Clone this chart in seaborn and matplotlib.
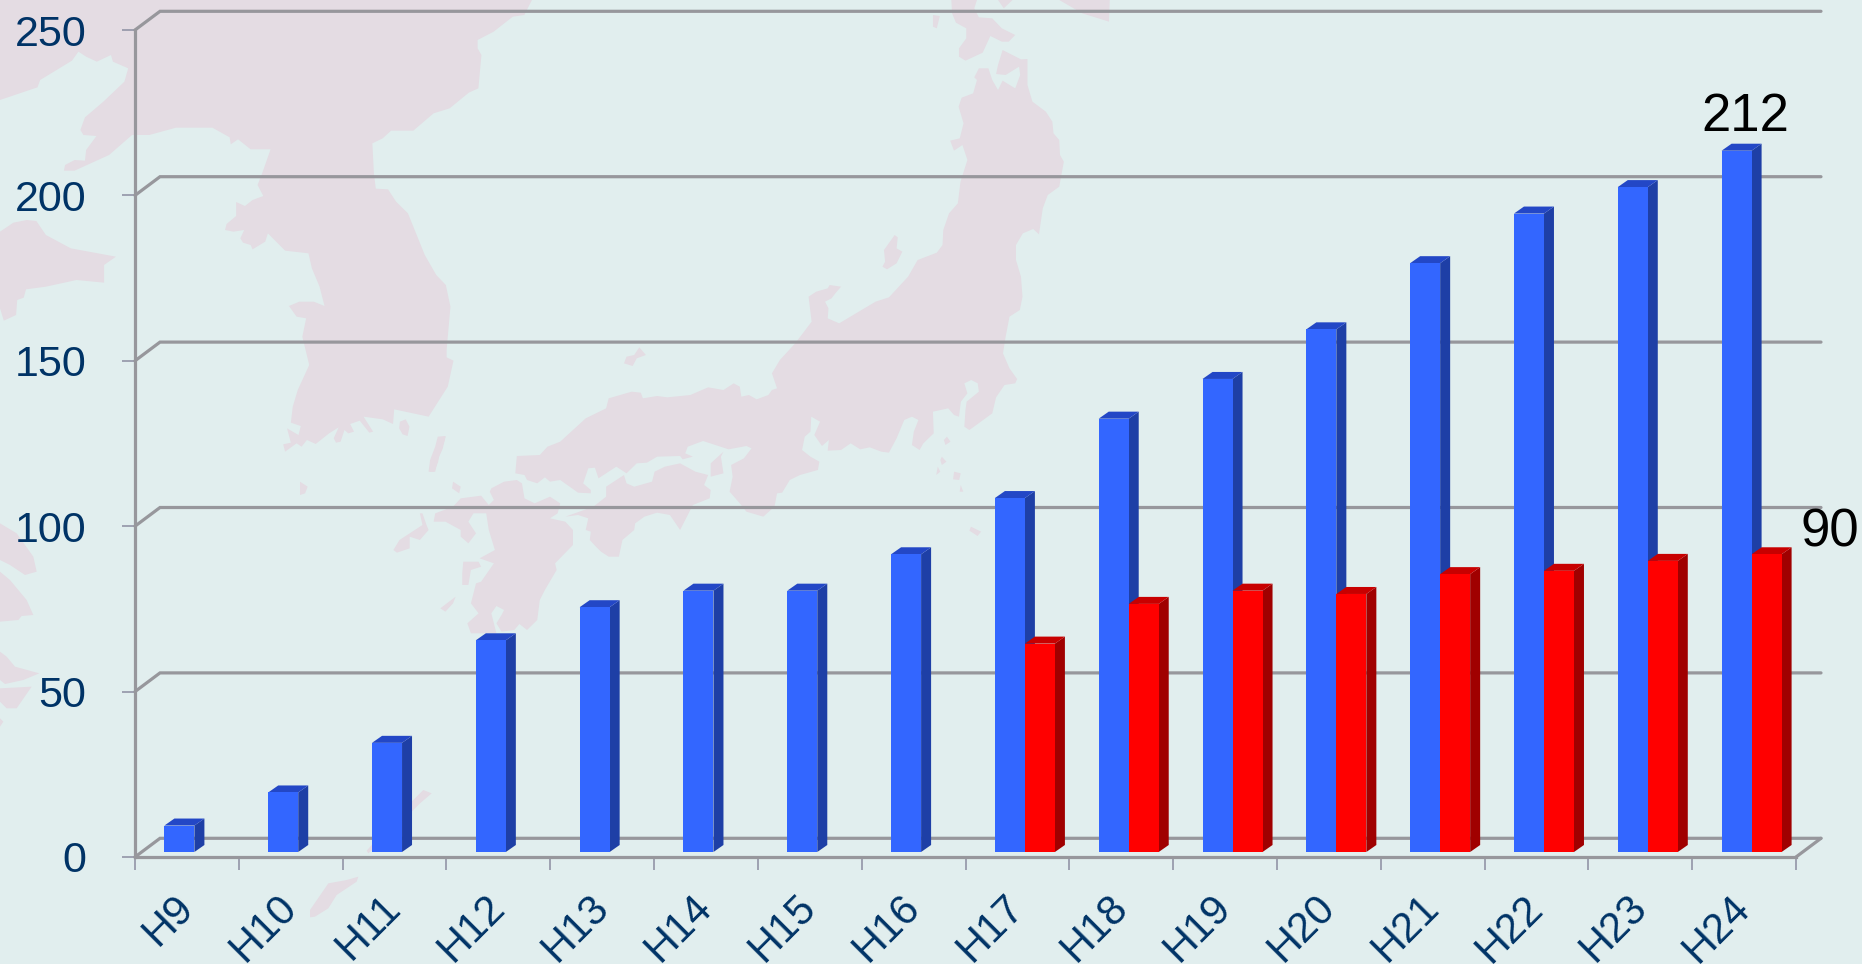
import matplotlib
matplotlib.use("Agg")
import matplotlib.pyplot as plt
from matplotlib.patches import Polygon
from matplotlib.transforms import ScaledTranslation
import pandas as pd
import seaborn as sns

# ---- data ----
years = ["H9", "H10", "H11", "H12", "H13", "H14", "H15", "H16",
         "H17", "H18", "H19", "H20", "H21", "H22", "H23", "H24"]
blue_values = [8, 18, 33, 64, 74, 79, 79, 90, 107, 131, 143, 158, 178, 193, 201, 212]
red_values = [None] * 8 + [63, 75, 79, 78, 84, 85, 88, 90]
y_ticks = [0, 50, 100, 150, 200, 250]

# ---- style ----
W, H = 1862, 964
BG = "#e1eeee"
MAP = "#e4dce3"
GRID = "#97979c"
TICK = "#9295a6"
NAVY = "#003366"
FONT = "Liberation Sans"
BLUE = ("#3366ff", "#1e3fa6", "#2347c6")   # front, side, top
RED = ("#ff0000", "#a00000", "#c80000")

sns.set_theme(style="white")
plt.rcParams["font.family"] = [FONT, "DejaVu Sans"]

fig = plt.figure(figsize=(W / 100, H / 100), dpi=100, facecolor=BG)

# ---- background map (decorative outlines, traced in zoomed picture coordinates) ----
bg = fig.add_axes([0, 0, 1, 1], zorder=0)
bg.set_xlim(0, W); bg.set_ylim(H, 0); bg.axis("off")


def land(pts, x0=0, y0=0, sx=3.0, sy=3.0):
    bg.add_patch(Polygon([(x0 + x / sx, y0 + y / sy) for x, y in pts], closed=True,
                         facecolor=MAP, edgecolor="none"))


Z4 = dict(x0=0, y0=0, sx=2.613, sy=3)
Z5 = dict(x0=600, y0=0, sx=2.613, sy=3)
Z6 = dict(x0=300, y0=340, sx=1.96, sy=3)
Z8 = dict(x0=0, y0=480, sx=3, sy=3)
Z1 = dict(x0=0, y0=780, sx=3, sy=3)

land([(1390,0),(1370,45),(1340,50),(1290,95),(1248,120),(1248,145),(1258,165),(1250,265),(1225,278),(1175,325),
      (1133,340),(1080,392),(1022,392),(1000,415),(973,430),(977,520),(982,566),(1014,568),(1035,605),(1066,640),
      (1110,765),(1140,825),(1165,855),(1177,920),(1167,1050),(1167,1072),(1185,1082),(1170,1160),(1120,1250),
      (1030,1228),(1027,1272),(1000,1258),(950,1250),(975,1295),(965,1298),(940,1262),(915,1272),(925,1295),
      (910,1300),(900,1290),(890,1325),(878,1328),(872,1315),(885,1282),(860,1300),(825,1332),(802,1320),(788,1340),
      (775,1330),(745,1355),(740,1333),(760,1328),(750,1285),(780,1305),(786,1278),(760,1268),(765,1220),(778,1170),
      (808,1095),(790,1010),(800,955),(775,950),(755,918),(782,905),(820,905),(848,918),(835,860),(815,805),(806,760),
      (745,752),(700,700),(693,725),(660,748),(655,735),(635,728),(628,715),(638,690),(610,695),(588,690),(592,672),
      (617,648),(617,606),(640,618),(660,600),(688,588),(673,555),(685,520),(707,448),(655,448),(622,418),(603,433),
      (600,412),(555,383),(460,383),(390,405),(345,405),(285,465),(195,512),(167,512),(170,495),(195,480),(222,482),
      (225,450),(252,408),(218,405),(210,390),(222,352),(270,305),(325,245),(335,205),(295,185),(290,165),(253,185),
      (225,170),(205,155),(188,182),(105,240),(98,262),(0,300),(0,0)], **Z4)
land([(0,695),(35,668),(70,660),(95,663),(120,705),(185,745),(303,770),(272,795),(272,848),(200,840),(120,860),
      (68,868),(62,893),(45,900),(42,945),(10,962),(0,925)], **Z4)
land([(1045,1265),(1060,1258),(1070,1280),(1065,1308),(1052,1303),(1043,1285)], **Z4)
land([(1165,1308),(1160,1330),(1150,1350),(1145,1385),(1135,1415),(1122,1415),(1125,1385),(1135,1365),(1142,1330)], **Z4)

# left-edge coast
land([(0,130),(50,160),(100,230),(110,275),(75,285),(30,255),(0,240)], **Z8)
land([(0,275),(30,300),(80,360),(100,405),(65,408),(55,420),(0,425)], **Z8)
land([(0,515),(20,530),(45,560),(118,580),(70,600),(15,612),(0,600)], **Z8)
land([(0,625),(95,620),(50,685),(20,685),(0,665)], **Z8)
land([(0,715),(10,725),(0,740)], **Z8)

# Honshu: northern and eastern coast, then the Kii section, then the west coast
honshu_north = [(990,205),(1015,205),(1025,240),(1040,270),(1052,242),(1085,265),(1098,225),(1095,200),(1060,225),
                (1035,222),(1040,195),(1052,150),(1100,178),(1117,177),(1117,255),(1130,305),(1165,335),(1182,365),
                (1185,400),(1200,420),(1202,465),(1212,485),(1200,560),(1170,585),(1157,625),(1147,703),(1132,687),
                (1105,700),(1087,735),(1087,780),(1100,830),(1104,890),(1097,930),(1070,950),(1060,1010),(1053,1060),
                (1070,1105),(1090,1137),(1085,1150),(1057,1155),(1035,1192),(1025,1240),(975,1282),(965,1290),(952,1280),
                (955,1230),(958,1205),(990,1175),(987,1150),(970,1140),(952,1150),(960,1180),(943,1205),(938,1250),
                (925,1245),(910,1225),(870,1235),(872,1300),(845,1330),(835,1350),(815,1335),(820,1295),(832,1260),
                (815,1250),(795,1260),(775,1315),(755,1358),(735,1355),(705,1342),(680,1348),(655,1330),(630,1350),
                (595,1352),(598,1320),(580,1338),(560,1305),(575,1265),(552,1250),(550,1295),(535,1310),(528,1350),
                (550,1370)]
honshu_south = [(1018,365),(1015,390),(980,405),(960,420),(945,458),(935,460),(930,500),(908,530),(875,515),(862,490),
                (842,455),(848,410),(845,375),(870,355),(885,325),(875,318),(840,328),(790,303),(760,320),(755,340),
                (770,350),(750,358),(745,348),(700,350),(680,368),(660,370),(640,400),(620,380),(585,415),(578,383),
                (565,385),(555,430),(570,450),(570,460),(545,458),(510,420),(490,425),(480,412),(465,430),(445,420),
                (440,405),(422,400),(425,348),(470,345),(485,320),(510,305),(560,235),(600,205),(605,175),(650,155),
                (668,158),(672,175),(700,168),(720,172),(765,165),(800,142),(830,150),(850,130),(862,140),(865,170),
                (880,165),(895,178),(918,165),(925,150),(935,145),(925,100)]
honshu_west = [(470,1080),(510,1030),(553,965),(545,890),(565,875),(595,865),(600,855),(630,860),(615,880),(605,895),
               (588,905),(597,925),(595,955),(625,970),(720,905),(755,892),(805,830),(830,780),(880,758),(895,735),
               (897,690),(912,640),(935,610),(942,545),(960,480),(947,435),(925,452),(915,422),(940,415),(950,370),
               (937,320),(945,293),(975,280),(985,240),(978,232)]
ring = ([(600 + x / 2.613, y / 3) for x, y in honshu_north]
        + [(300 + x / 1.96, 340 + y / 3) for x, y in honshu_south]
        + [(600 + x / 2.613, y / 3) for x, y in honshu_west])
land(ring, sx=1, sy=1)

# Hokkaido and northern islands
land([(918,0),(920,40),(930,68),(957,85),(957,115),(938,145),(938,170),(955,182),(1000,158),(1020,108),(1050,125),
      (1068,125),(1085,105),(1050,85),(1025,55),(990,52),(978,25),(985,0)], **Z5)
land([(1040,0),(1055,25),(1078,0)], **Z5)
land([(1200,0),(1260,40),(1330,65),(1332,0)], **Z5)
land([(870,45),(888,48),(880,85),(870,80)], **Z5)
land([(770,705),(778,712),(775,745),(790,755),(775,790),(750,808),(738,800),(745,785),(742,750)], **Z5)

# Shikoku, Kyushu and small islands
land([(575,500),(600,470),(600,440),(635,405),(640,430),(655,440),(690,425),(695,395),(715,380),(745,370),(775,395),
      (800,405),(792,435),(805,450),(803,475),(770,495),(755,540),(745,570),(725,525),(700,518),(675,530),(657,550),
      (655,570),(632,600),(625,650),(605,650),(590,635),(580,620),(568,600),(570,575),(560,570),(565,535),(545,525),
      (520,530)], **Z6)
land([(375,445),(400,425),(425,420),(435,430),(440,475),(460,490),(490,470),(510,490),(505,520),(490,535),(520,545),
      (535,570),(535,615),(500,670),(503,690),(480,750),(470,780),(465,840),(445,870),(430,852),(420,870),(395,875),
      (385,850),(395,825),(400,810),(385,798),(375,820),(385,880),(335,880),(328,850),(350,820),(335,790),(345,730),
      (355,725),(380,670),(352,655),(382,630),(370,570),(365,520),(340,520),(330,545),(345,580),(330,610),(315,590),
      (315,570),(285,545),(262,545),(265,520),(300,500),(315,475),(355,467),(370,495),(380,480),(372,455)], **Z6)
for isle in ([(830,335),(825,350),(830,400),(805,410),(805,370)],
             [(240,520),(248,555),(252,570),(235,600),(215,590),(215,625),(190,638),(183,630),(195,600),(225,570),(240,555),(235,520)],
             [(320,665),(350,665),(355,680),(335,690),(330,735),(318,735),(318,700)],
             [(300,425),(315,440),(312,460),(298,445)],
             [(665,22),(678,45),(660,55),(652,78),(635,70),(640,50),(655,45)],
             [(305,770),(300,790),(285,815),(275,805)],
             [(270,290),(285,288),(280,325),(270,360),(265,395),(252,395),(255,360),(265,320)],
             [(0,425),(15,440),(10,460),(0,465)],
             [(1268,290),(1275,305),(1265,315),(1262,300)],
             [(1258,350),(1267,365),(1258,375),(1255,360)],
             [(1250,380),(1255,395),(1247,405)],
             [(1282,395),(1295,400),(1292,420),(1280,418)],
             [(1295,435),(1300,455),(1293,455)],
             [(1315,560),(1335,575),(1328,588),(1312,572)]):
    land(isle, **Z6)

# Okinawa-like chain
land([(1075,290),(1070,305),(1010,345),(985,385),(945,410),(930,412),(930,390),(985,310),(1040,300)], **Z1)
land([(1270,30),(1295,40),(1260,70),(1235,95),(1150,180),(1105,220),(1100,212),(1190,110),(1230,70)], **Z1)

# ---- axes geometry ----
AX_L, AX_R, AX_T, AX_B = 135, 1796, 30, 857
BAR_SHIFT_X, BAR_SHIFT_Y = 7.5, 5
axw, axh = AX_R - AX_L, AX_B - AX_T
ax = fig.add_axes([AX_L / W, (H - AX_B) / H, axw / W, axh / H], zorder=1)
ax.patch.set_alpha(0)
ax.set_xlim(-0.5, len(years) - 0.5)
ax.set_ylim(0, max(y_ticks))
px_x = (ax.get_xlim()[1] - ax.get_xlim()[0]) / axw
px_y = max(y_ticks) / axh

for s in ("top", "right"):
    ax.spines[s].set_visible(False)
for s in ("left", "bottom"):
    ax.spines[s].set_color(GRID)
    ax.spines[s].set_linewidth(2.3)

# back wall grid and side wall diagonals
wall_dx, wall_dy = 25 * px_x, 18.7 * px_y
x0, x1 = ax.get_xlim()
for t in y_ticks:
    ax.plot([x0, x0 + wall_dx, x1 + wall_dx], [t, t + wall_dy, t + wall_dy], color=GRID, lw=2.3,
            clip_on=False, solid_joinstyle="miter", zorder=1)
ax.plot([x1, x1 + wall_dx], [0, wall_dy], color=GRID, lw=2.3, clip_on=False, zorder=1)

ax.set_yticks(y_ticks)
ax.set_yticklabels([str(t) for t in y_ticks], fontsize=31, color=NAVY, family=FONT)
ax.tick_params(axis="y", length=9.4, width=1.2, color=TICK, pad=25.5, left=True)
ax.set_xticks(range(len(years)))
ax.set_xticklabels(years, fontsize=30, color=NAVY, family=FONT, rotation=45, ha="right",
                   rotation_mode="anchor")
ax.tick_params(axis="x", which="major", length=0, pad=22, bottom=False)
ax.set_xticks([i - 0.5 for i in range(len(years) + 1)], minor=True)
ax.tick_params(axis="x", which="minor", length=9.4, width=1.2, color=TICK, bottom=True)
ax.set_xlabel(""); ax.set_ylabel("")
for lab in ax.get_xticklabels():
    lab.set_transform(lab.get_transform() + ScaledTranslation(-14 / 100, 0, fig.dpi_scale_trans))

# ---- bars: seaborn draws front faces on an axes shifted onto the chart floor ----
bax = fig.add_axes([(AX_L + BAR_SHIFT_X) / W, (H - AX_B + BAR_SHIFT_Y) / H, axw / W, axh / H], zorder=2)
df = pd.DataFrame({"year": years * 2,
                   "count": blue_values + red_values,
                   "series": ["blue"] * len(years) + ["red"] * len(years)})
sns.barplot(data=df, x="year", y="count", hue="series", order=years, hue_order=["blue", "red"],
            palette=[BLUE[0], RED[0]], width=60 / 103.8, gap=0, saturation=1, legend=False,
            linewidth=0, ax=bax)
bax.set_xlim(ax.get_xlim()); bax.set_ylim(ax.get_ylim())
bax.axis("off")

depth_x, depth_y = 10 * px_x, 7 * px_y
last = {}
n = len(years)
for i, p in enumerate(list(bax.patches)):
    h = p.get_height()
    if not h or h != h:
        continue
    is_blue = i < n
    colors = BLUE if is_blue else RED
    base = 2 if is_blue else 4
    xa, xb = p.get_x(), p.get_x() + p.get_width()
    p.set_zorder(base + 1)
    bax.add_patch(Polygon([(xb, 0), (xb + depth_x, depth_y), (xb + depth_x, h + depth_y), (xb, h)],
                          facecolor=colors[1], edgecolor="none", zorder=base))
    bax.add_patch(Polygon([(xa, h), (xb, h), (xb + depth_x, h + depth_y), (xa + depth_x, h + depth_y)],
                          facecolor=colors[2], edgecolor="none", zorder=base))
    last["blue" if is_blue else "red"] = p

for key, off in (("blue", (8.5, 20)), ("red", (63, 7.6))):
    p = last[key]
    bax.annotate(f"{p.get_height():.0f}", xy=(p.get_x() + p.get_width() / 2, p.get_height()),
                 xytext=(off[0] * 0.72, off[1] * 0.72), textcoords="offset points",
                 ha="center", va="baseline", fontsize=38, color="black", family=FONT,
                 annotation_clip=False, zorder=10)

fig.savefig("out.png", dpi=100, facecolor=BG)
